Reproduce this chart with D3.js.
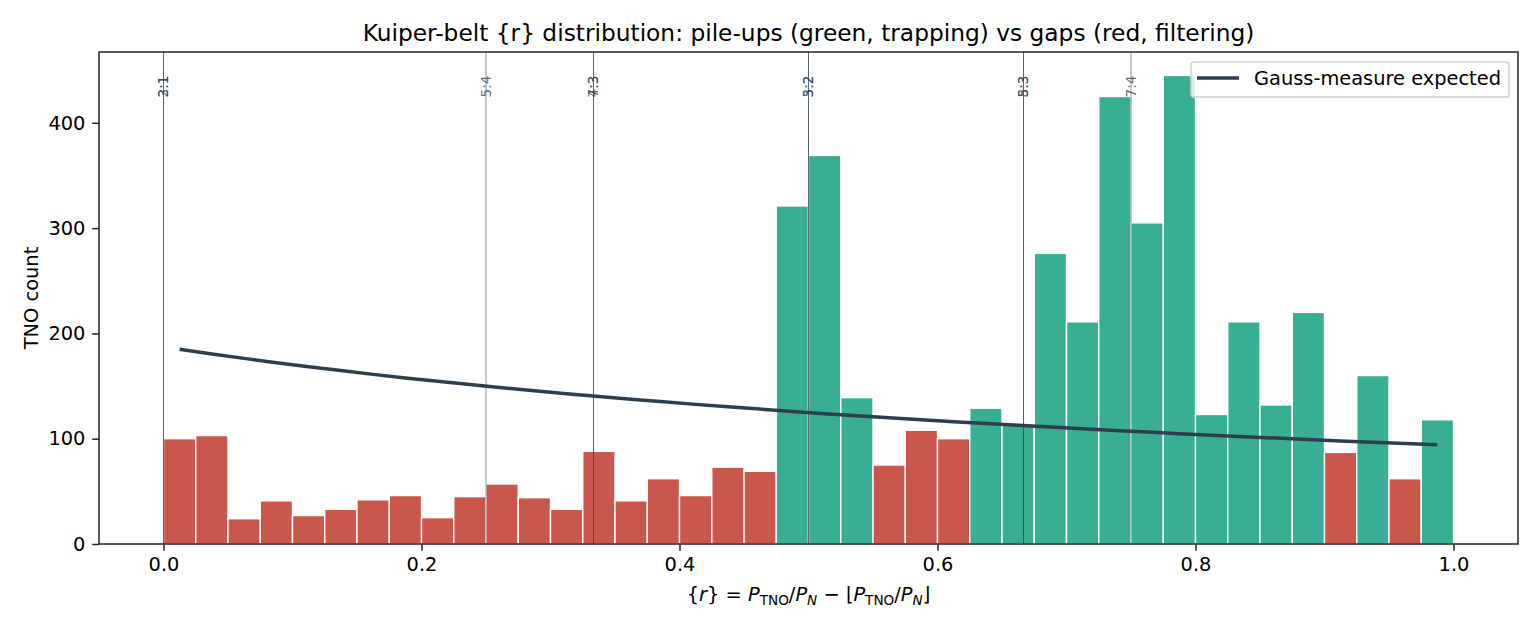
<!DOCTYPE html>
<html>
<head>
<meta charset="utf-8">
<script src="https://cdn.jsdelivr.net/npm/d3@7"></script>
<style>
    body { margin: 0; background: #fff; }
    svg text { font-family: "DejaVu Sans", sans-serif; }
</style>
</head>
<body>
<div id="chart"></div>
<script>
// Histogram of fractional period ratio {r}, 40 bins on [0, 1]
var binStarts = d3.range(40).map(i => i / 40);
var binWidth = 0.025;
var counts = [100, 103, 24, 41, 27, 33, 42, 46, 25, 45,
              57, 44, 33, 88, 41, 62, 46, 73, 69, 321,
              369, 139, 75, 108, 100, 129, 114, 276, 211, 425,
              305, 445, 123, 211, 132, 220, 87, 160, 62, 118];

// Gauss-measure expected counts read at bin centres
var expected = [185.0, 180.5, 176.3, 172.2, 168.4, 164.7, 161.1, 157.7, 154.5, 151.4,
                148.4, 145.5, 142.7, 140.0, 137.5, 135.0, 132.6, 130.3, 128.1, 125.9,
                123.8, 121.8, 119.9, 118.0, 116.2, 114.4, 112.7, 111.0, 109.4, 107.8,
                106.3, 104.8, 103.3, 101.9, 100.6, 99.2, 97.9, 96.7, 95.4, 94.2];

// Neptune mean-motion resonances (p:q)
var resonances = [
    { name: "3:2", p: 3, q: 2 },
    { name: "2:1", p: 2, q: 1 },
    { name: "5:2", p: 5, q: 2 },
    { name: "3:1", p: 3, q: 1 },
    { name: "4:3", p: 4, q: 3 },
    { name: "5:3", p: 5, q: 3 },
    { name: "7:4", p: 7, q: 4 },
    { name: "5:4", p: 5, q: 4 },
    { name: "7:3", p: 7, q: 3 },
    { name: "8:3", p: 8, q: 3 }
];

var xTicks = [0, 0.2, 0.4, 0.6, 0.8, 1.0];
var yTicks = [0, 100, 200, 300, 400];

var svgWidth = 1540;
var svgHeight = 630;
var margin = { top: 52, right: 22, bottom: 86, left: 99 };
var width = svgWidth - margin.left - margin.right;
var height = svgHeight - margin.top - margin.bottom;

var red = "#c9574b";
var green = "#38ae94";
var dark = "#2c3e50";

var svg = d3.select("#chart")
    .append("svg")
    .attr("width", svgWidth)
    .attr("height", svgHeight);

var chartGroup = svg.append("g")
    .attr("transform", `translate(${margin.left}, ${margin.top})`);

var xScale = d3.scaleLinear().domain([-0.05, 1.05]).range([0, width]);
var yScale = d3.scaleLinear().domain([0, d3.max(counts) * 1.05]).range([height, 0]);

// bars
var bins = binStarts.map((b, i) => ({ x0: b, x1: b + binWidth, n: counts[i], e: expected[i] }));

chartGroup.selectAll("rect.bar")
    .data(bins)
    .enter()
    .append("rect")
    .attr("class", "bar")
    .attr("x", d => xScale(d.x0))
    .attr("width", d => xScale(d.x1) - xScale(d.x0))
    .attr("y", d => yScale(d.n))
    .attr("height", d => yScale(0) - yScale(d.n))
    .attr("fill", d => d.n > d.e ? green : red)
    .attr("stroke", "#fff")
    .attr("stroke-width", 1.4);

// resonance lines
var resGroup = chartGroup.append("g");
resonances.forEach(function(r) {
    var ratio = r.p / r.q;
    var frac = ratio - Math.floor(ratio);
    var x = xScale(frac);
    resGroup.append("line")
        .attr("x1", x).attr("x2", x)
        .attr("y1", 0).attr("y2", height)
        .attr("stroke", dark)
        .attr("stroke-opacity", 0.55)
        .attr("stroke-width", 1);
    resGroup.append("text")
        .attr("transform", `translate(${x}, 23.5) rotate(-90)`)
        .attr("text-anchor", "end")
        .attr("dy", "0.36em")
        .attr("font-size", 13.6)
        .attr("fill", dark)
        .attr("fill-opacity", 0.75)
        .text(r.name);
});

// expected curve
var line = d3.line()
    .x((d, i) => xScale(binStarts[i] + binWidth / 2))
    .y(d => yScale(d));

chartGroup.append("path")
    .datum(expected)
    .attr("d", line)
    .attr("fill", "none")
    .attr("stroke", dark)
    .attr("stroke-width", 3.5);

// axes
var bottomAxis = d3.axisBottom(xScale).tickValues(xTicks).tickFormat(d3.format(".1f")).tickSizeOuter(0).tickSize(6.8).tickPadding(6.8);
var leftAxis = d3.axisLeft(yScale).tickValues(yTicks).tickSizeOuter(0).tickSize(6.8).tickPadding(6.8);

var xAxis = chartGroup.append("g")
    .attr("transform", `translate(0, ${height})`)
    .call(bottomAxis);
var yAxis = chartGroup.append("g").call(leftAxis);

[xAxis, yAxis].forEach(function(a) {
    a.select(".domain").remove();
    a.selectAll("line").attr("stroke", "#222").attr("stroke-width", 1.5);
    a.selectAll("text").attr("font-size", 19.4).attr("fill", "#000").attr("font-family", "DejaVu Sans");
});

// frame
chartGroup.append("rect")
    .attr("width", width)
    .attr("height", height)
    .attr("fill", "none")
    .attr("stroke", "#222")
    .attr("stroke-width", 1.5);

// title
svg.append("text")
    .attr("x", margin.left + width / 2)
    .attr("y", 41)
    .attr("text-anchor", "middle")
    .attr("font-size", 23.3)
    .text("Kuiper-belt {r} distribution: pile-ups (green, trapping) vs gaps (red, filtering)");

// y label
svg.append("text")
    .attr("transform", `translate(38, ${margin.top + height / 2}) rotate(-90)`)
    .attr("text-anchor", "middle")
    .attr("font-size", 19.4)
    .text("TNO count");

// x label (math text)
var xl = svg.append("text")
    .attr("x", margin.left + width / 2)
    .attr("y", 601)
    .attr("text-anchor", "middle")
    .attr("font-size", 19.4);
xl.append("tspan").text("{");
xl.append("tspan").attr("font-style", "italic").text("r");
xl.append("tspan").text("} = ");
xl.append("tspan").attr("font-style", "italic").text("P");
xl.append("tspan").attr("font-size", 13.6).attr("dy", 4).text("TNO");
xl.append("tspan").attr("dy", -4).text("/");
xl.append("tspan").attr("font-style", "italic").text("P");
xl.append("tspan").attr("font-size", 13.6).attr("font-style", "italic").attr("dy", 4).text("N");
xl.append("tspan").attr("dy", -4).text(" \u2212 \u230A");
xl.append("tspan").attr("font-style", "italic").text("P");
xl.append("tspan").attr("font-size", 13.6).attr("dy", 4).text("TNO");
xl.append("tspan").attr("dy", -4).text("/");
xl.append("tspan").attr("font-style", "italic").text("P");
xl.append("tspan").attr("font-size", 13.6).attr("font-style", "italic").attr("dy", 4).text("N");
xl.append("tspan").attr("dy", -4).text("\u230B");

// legend
var legend = chartGroup.append("g")
    .attr("transform", `translate(${width - 327}, 10)`);
legend.append("rect")
    .attr("width", 318)
    .attr("height", 35)
    .attr("rx", 3)
    .attr("fill", "#fff")
    .attr("fill-opacity", 0.8)
    .attr("stroke", "#d0d0d0")
    .attr("stroke-width", 1.4);
legend.append("line")
    .attr("x1", 6).attr("x2", 48)
    .attr("y1", 16).attr("y2", 16)
    .attr("stroke", dark)
    .attr("stroke-width", 3.5);
legend.append("text")
    .attr("x", 63)
    .attr("y", 23)
    .attr("font-size", 19.4)
    .text("Gauss-measure expected");
</script>
</body>
</html>
